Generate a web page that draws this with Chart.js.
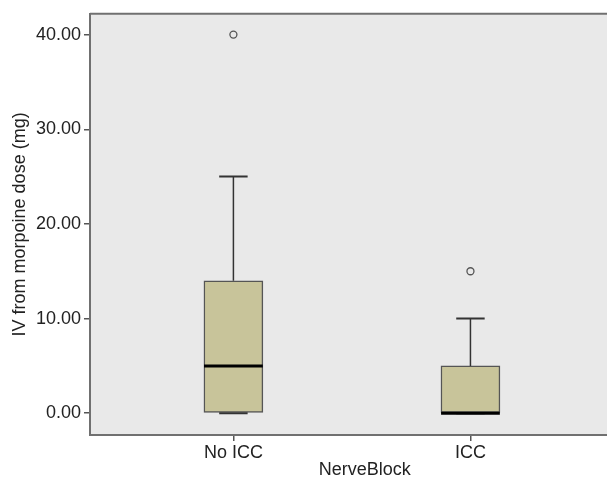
<!DOCTYPE html>
<html>
<head>
<meta charset="utf-8">
<script src="https://cdn.jsdelivr.net/npm/chart.js@4/dist/chart.umd.min.js"></script>
<style>
  html, body { margin: 0; background: #fff; overflow: hidden; }
  /* plot frame runs past the right edge of the picture, as in the original */
  #wrap { width: 645px; height: 478px; }
</style>
</head>
<body>
<div id="wrap"><canvas id="box"></canvas></div>
<script>
// box plot values
const categories = ['No ICC', 'ICC'];
const whiskerLow = [0, 0];
const q1 = [0, 0];
const median = [5, 0];
const q3 = [14, 5];
const whiskerHigh = [25, 10];
const outliers = [[40], [15]];
const yTicks = [0, 10, 20, 30, 40];

const boxHalf = 0.124;
const capHalf = 0.06;

const boxes = categories.map((c, i) => ({ x: i + 1, y: [q1[i], q3[i]] }));
const whiskers = [];
const caps = [];
const medians = [];
const points = [];
categories.forEach((c, i) => {
    const x = i + 1;
    whiskers.push({ x: x, y: q3[i] }, { x: x, y: whiskerHigh[i] }, { x: x, y: null });
    whiskers.push({ x: x, y: whiskerLow[i] }, { x: x, y: q1[i] }, { x: x, y: null });
    caps.push({ x: x - capHalf, y: whiskerHigh[i] }, { x: x + capHalf, y: whiskerHigh[i] }, { x: x, y: null });
    caps.push({ x: x - capHalf, y: whiskerLow[i] }, { x: x + capHalf, y: whiskerLow[i] }, { x: x, y: null });
    medians.push({ x: x - boxHalf, y: median[i] }, { x: x + boxHalf, y: median[i] }, { x: x, y: null });
    outliers[i].forEach(v => points.push({ x: x, y: v }));
});

const plotFrame = {
    id: 'plotFrame',
    beforeDraw(chart) {
        const a = chart.chartArea;
        const ctx = chart.ctx;
        ctx.save();
        ctx.fillStyle = '#e9e9e9';
        ctx.fillRect(a.left, a.top, a.right - a.left, a.bottom - a.top);
        ctx.strokeStyle = '#707070';
        ctx.lineWidth = 2;
        ctx.beginPath();
        ctx.moveTo(a.left, a.top);
        ctx.lineTo(a.right, a.top);
        ctx.stroke();
        ctx.restore();
    }
};

const font = { family: '"Liberation Sans", Arial, sans-serif', size: 18 };

new Chart(document.getElementById('box'), {
    data: {
        datasets: [
            {
                type: 'bar', data: boxes, order: 4,
                backgroundColor: '#c8c49a', borderColor: '#555555', borderWidth: 1.5,
                borderSkipped: false, barThickness: 59
            },
            {
                type: 'line', data: whiskers, order: 3, borderColor: '#333333', borderWidth: 1.5,
                pointRadius: 0, spanGaps: false
            },
            {
                type: 'line', data: caps, order: 2, borderColor: '#333333', borderWidth: 2,
                pointRadius: 0, spanGaps: false
            },
            {
                type: 'line', data: medians, order: 1, borderColor: '#000000', borderWidth: 3,
                pointRadius: 0, spanGaps: false
            },
            {
                type: 'scatter', data: points, order: 0, pointStyle: 'circle', pointRadius: 3.5,
                borderColor: '#555555', borderWidth: 1.3, backgroundColor: 'rgba(0,0,0,0)'
            }
        ]
    },
    options: {
        responsive: true,
        maintainAspectRatio: false,
        animation: false,
        layout: { padding: { top: 12, left: 0, right: 0, bottom: 0 } },
        plugins: { legend: { display: false }, tooltip: { enabled: false } },
        scales: {
            x: {
                type: 'linear', min: 0.395, max: 2.714, offset: false,
                afterBuildTicks: (s) => { s.ticks = categories.map((c, i) => ({ value: i + 1 })); },
                afterFit: (s) => { s.height = 43; },
                ticks: {
                    color: '#222', font: font, padding: 1, maxRotation: 0,
                    callback: (v) => categories[Math.round(v) - 1]
                },
                grid: { offset: false, drawOnChartArea: false, tickLength: 6, color: '#555', lineWidth: 1.5 },
                border: { display: true, color: '#707070', width: 2 },
                title: {
                    display: true, text: 'NerveBlock', color: '#222',
                    font: { family: font.family, size: 18, lineHeight: 0.9 }, padding: { top: 0, bottom: 0 }
                }
            },
            y: {
                type: 'linear', min: -2.3, max: 42.2,
                afterBuildTicks: (s) => { s.ticks = yTicks.map(v => ({ value: v })); },
                afterFit: (s) => { s.width = 90; },
                ticks: { color: '#222', font: font, padding: 3, callback: (v) => v.toFixed(2) },
                grid: { drawOnChartArea: false, tickLength: 6, color: '#555', lineWidth: 1.5 },
                border: { display: true, color: '#707070', width: 2 },
                title: { display: true, text: 'IV from morpoine dose (mg)', color: '#222', font: font, padding: { top: 9, bottom: 0 } }
            }
        }
    },
    plugins: [plotFrame]
});
</script>
</body>
</html>
